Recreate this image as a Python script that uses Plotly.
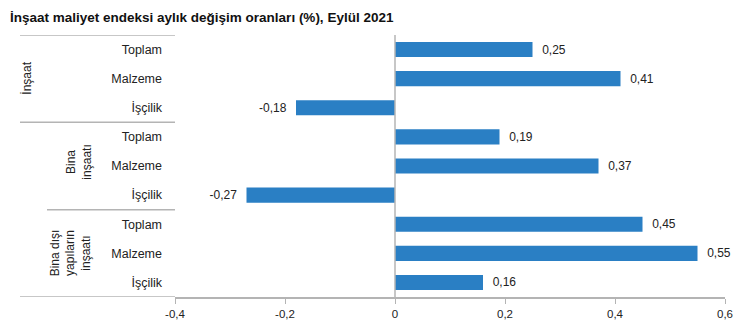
import plotly.graph_objects as go

groups = ["İnşaat", "Bina<br>inşaatı", "Bina dışı<br>yapıların<br>inşaatı"]
subcats = ["Toplam", "Malzeme", "İşçilik"]
values = [0.25, 0.41, -0.18, 0.19, 0.37, -0.27, 0.45, 0.55, 0.16]
xticks = [-0.4, -0.2, 0, 0.2, 0.4, 0.6]
xticklabels = ["-0,4", "-0,2", "0", "0,2", "0,4", "0,6"]
title = "İnşaat maliyet endeksi aylık değişim oranları (%), Eylül 2021"

n = len(values)
ypos = list(range(n))
ylabels = [subcats[i % 3] for i in range(n)]
texts = [("\u00a0\u00a0" + f"{v:.2f}".replace(".", ",")) if v >= 0
         else (f"{v:.2f}".replace(".", ",") + "\u00a0\u00a0") for v in values]

FONT = "Liberation Sans, Arial, sans-serif"
BAR = "#2a7fc4"
GRID = "#b4b4b4"

fig = go.Figure(go.Bar(
    x=values, y=ypos, orientation="h",
    marker=dict(color=BAR, line=dict(width=0)),
    width=0.52,
    text=texts, textposition="outside", cliponaxis=False,
    textfont=dict(family=FONT, size=12, color="#222"),
))

L, R, T, B = 175, 24, 35, 39
W, H = 749, 336
pw = W - L - R

def px2paper(px):
    return (px - L) / pw

shapes = []
for yb, xstart in [(-0.5, 20), (2.5, 20), (5.5, 47), (8.5, 20)]:
    shapes.append(dict(type="line", xref="paper", yref="y",
                       x0=px2paper(xstart), x1=0, y0=yb, y1=yb,
                       line=dict(color=GRID, width=1.5)))
shapes.append(dict(type="line", xref="x", yref="paper", x0=0, x1=0, y0=0, y1=1,
                   line=dict(color=GRID, width=1.5)))

annotations = []
group_x = [27, 79, 70]
group_y = [1, 3.85, 7]
for g, gx, gy in zip(groups, group_x, group_y):
    annotations.append(dict(text=g, xref="paper", yref="y", x=px2paper(gx), y=gy,
                            showarrow=False, textangle=-90,
                            xanchor="center", yanchor="middle",
                            font=dict(family=FONT, size=12, color="#222")))

fig.update_layout(
    width=W, height=H,
    margin=dict(l=L, r=R, t=T, b=B, pad=0),
    paper_bgcolor="white", plot_bgcolor="white",
    showlegend=False,
    title=dict(text=title, x=10 / W, xanchor="left", y=1 - 17 / H, yanchor="middle",
               font=dict(family=FONT, size=13.5, color="#111", weight="bold")),
    xaxis=dict(range=[-0.4, 0.6], tickvals=xticks, ticktext=xticklabels,
               showgrid=False, zeroline=False, showline=True, linecolor=GRID, linewidth=1.5,
               ticks="outside", ticklen=5, tickcolor=GRID,
               tickfont=dict(family=FONT, size=11.5, color="#222")),
    yaxis=dict(tickvals=ypos, ticktext=ylabels, range=[8.5, -0.5],
               showgrid=False, zeroline=False, showline=False, ticks="",
               ticklabelstandoff=12,
               tickfont=dict(family=FONT, size=12.5, color="#222")),
    shapes=shapes, annotations=annotations,
)

fig.write_html("out.html")
